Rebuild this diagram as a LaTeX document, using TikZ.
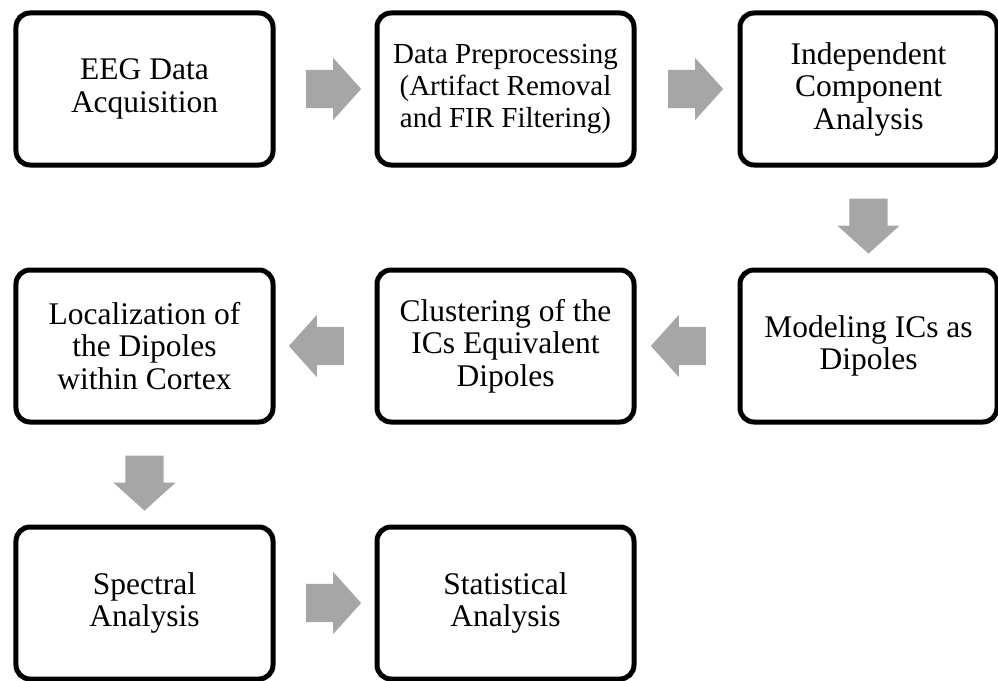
\documentclass[tikz,border=0pt]{standalone}
\usepackage{fontspec}
\setmainfont{Liberation Serif}
\usetikzlibrary{arrows.meta,positioning,shapes.arrows,calc}
\definecolor{arrowgray}{RGB}{166,166,166}

\begin{document}
\begin{tikzpicture}[
    node distance=99pt,
    box/.style={draw,line width=5pt,rounded corners=14pt,minimum width=257pt,
                minimum height=152pt,align=center,
                font=\fontsize{31.5}{32.5}\selectfont},
    blockarrow/.style={single arrow,fill=arrowgray,draw=none,
                minimum height=55pt,inner xsep=0pt,inner ysep=19pt,
                single arrow head extend=12pt,single arrow tip angle=96}
  ]
    \useasboundingbox (-144.5pt,89pt) rectangle (853.5pt,-591pt);
    \node[box] (eeg) {EEG Data\\Acquisition};
    \node[box,right=of eeg,font=\fontsize{29}{32}\selectfont] (prep)
          {Data Preprocessing\\(Artifact Removal\\and FIR Filtering)};
    \node[box,right=101pt of prep] (ica) {Independent\\Component\\Analysis};
    \node[box,below=100pt of ica] (model) {Modeling ICs as\\Dipoles};
    \node[box,left=101pt of model] (clust) {Clustering of the\\ICs Equivalent\\Dipoles};
    \node[box,left=of clust] (local) {Localization of\\the Dipoles\\within Cortex};
    \node[box,below=100pt of local] (spec) {Spectral\\Analysis};
    \node[box,right=of spec] (stat) {Statistical\\Analysis};
    \node[blockarrow] (a1) at ($(eeg.east)!0.5!(prep.west)$) {};
    \node[blockarrow] (a2) at ($(prep.east)!0.5!(ica.west)$) {};
    \node[blockarrow,rotate=-90] (a3) at ($(ica.south)!0.5!(model.north)$) {};
    \node[blockarrow,rotate=180] (a4) at ($(model.west)!0.5!(clust.east)$) {};
    \node[blockarrow,rotate=180] (a5) at ($(clust.west)!0.5!(local.east)$) {};
    \node[blockarrow,rotate=-90] (a6) at ($(local.south)!0.5!(spec.north)$) {};
    \node[blockarrow] (a7) at ($(spec.east)!0.5!(stat.west)$) {};
  \end{tikzpicture}
\end{document}
